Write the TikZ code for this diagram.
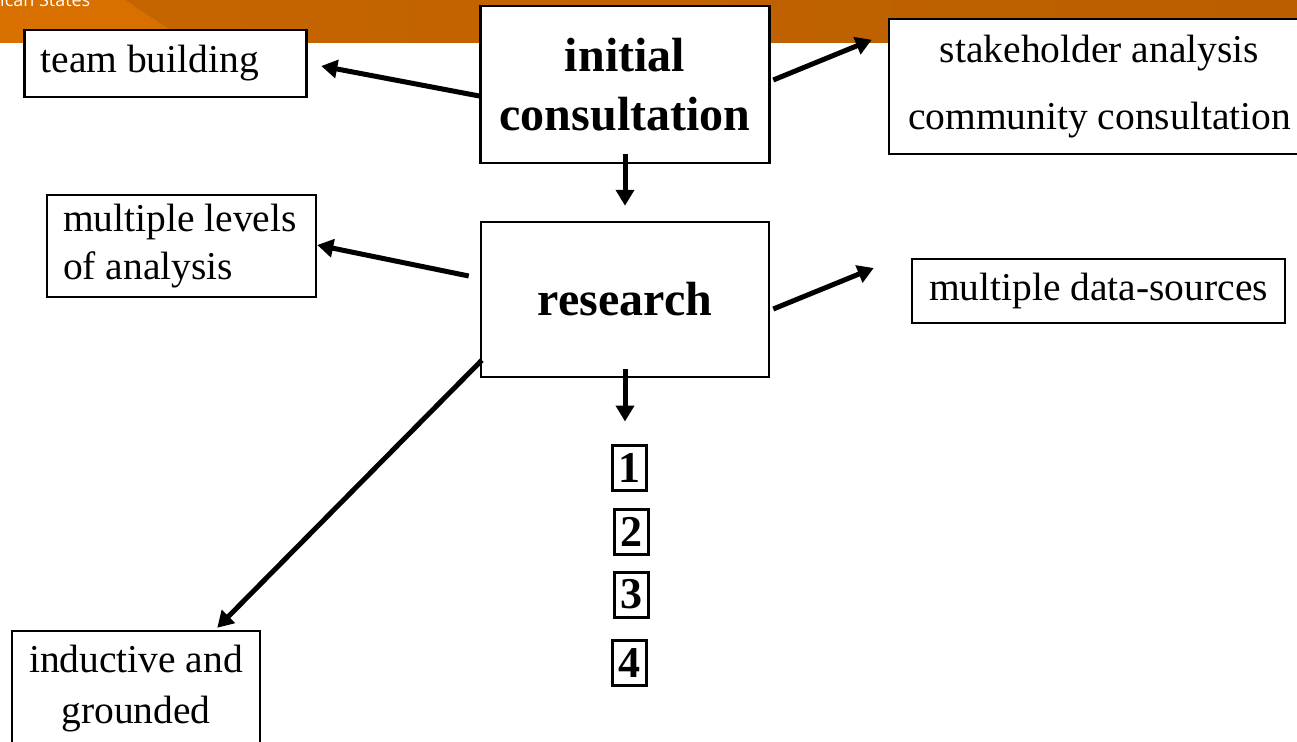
\documentclass[tikz,border=0pt]{standalone}
\usepackage{fontspec}
\setmainfont{Liberation Serif}
\newfontfamily\bannerfont{Open Sans}
\usetikzlibrary{arrows.meta,calc}

\definecolor{bannerA}{HTML}{C66600}
\definecolor{bannerB}{HTML}{BA5E00}
\definecolor{bannerC}{HTML}{D87000}

\tikzset{
  textbox/.style={draw, fill=white, line width=2.5pt, inner sep=0pt,
    font=\fontsize{39.5}{48}\selectfont,
    execute at begin node={\spaceskip=0pt\xspaceskip=0pt}},
  bigbox/.style={textbox, font=\fontsize{48}{59}\selectfont\bfseries},
  numbox/.style={draw, fill=white, line width=3pt, inner sep=0pt,
    minimum width=34pt, minimum height=45pt,
    font=\fontsize{44}{44}\selectfont\bfseries},
  arr/.style={line width=5pt, -{Triangle[length=16pt,width=18pt]}},
}

\begin{document}
\begin{tikzpicture}[x=1pt,y=-1pt]
    \useasboundingbox (0,0) rectangle (1297,741);

    % Banner
    \shade[left color=bannerA, right color=bannerB] (0,0) rectangle (1297,43);
    \fill[bannerC] (0,0) -- (125,0) -- (190,43) -- (0,43) -- cycle;
    \node[anchor=base west, inner sep=0pt, text=white,
      font=\bannerfont\fontsize{18}{20}\selectfont] (banner) at (0,7) {ican States};

    % Boxes
    \node[bigbox, minimum width=289pt, minimum height=157pt, align=center]
      (init) at (625,84.5) {initial\\consultation};
    \node[bigbox, minimum width=288pt, minimum height=155pt]
      (research) at (625,299.5) {research};

    \node[textbox, minimum width=282pt, minimum height=67pt,
      text width=250pt, align=left] (team) at (165.5,63.5) {team building};
    \node[textbox, minimum width=269pt, minimum height=102pt,
      text width=237pt, align=left] (levels) at (181.5,246)
      {multiple levels\\of analysis};
    \node[textbox, minimum width=248pt, minimum height=116pt, align=center,
      font=\fontsize{39.5}{51}\selectfont] (induct) at (136,689) {inductive and\\grounded};

    \node[textbox, minimum width=421pt, minimum height=135pt, align=center,
      font=\fontsize{39.5}{67}\selectfont] (stake) at (1099.5,86.5)
      {stakeholder analysis\\community consultation};
    \node[textbox, minimum width=373pt, minimum height=64pt]
      (sources) at (1098.5,291) {multiple data-sources};

    % Numbers
    \foreach \n/\x/\y in {1/629/467.5, 2/631/531.5, 3/631/594.5, 4/629/663} {
        \node[numbox] (d\n) at (\x,\y) {\n};
    }

    % Arrows
    \draw[arr] ($(init.west)+(0,11.5)$) -- ($(team.east)+(13.5,2.5)$);
    \draw[arr] ($(init.east)+(2.5,-4.5)$) -- ($(stake.north west)+(-16,22)$);
    \draw[arr] ($(init.south)+(0,-10)$) -- ($(research.north)+(0,-15)$);
    \draw[arr] ($(research.west)+(-11,-23.5)$) -- ($(levels.east)+(0,-1)$);
    \draw[arr] ($(research.east)+(3,9.5)$) -- ($(sources.west)+(-37,-23)$);
    \draw[arr] ($(research.south west)+(2,-18)$) -- ($(induct.north east)+(-44,-2)$);
    \draw[arr] ($(research.south)+(0,-9)$) -- ($(d1.north)+(-4,-22)$);
\end{tikzpicture}
\end{document}
